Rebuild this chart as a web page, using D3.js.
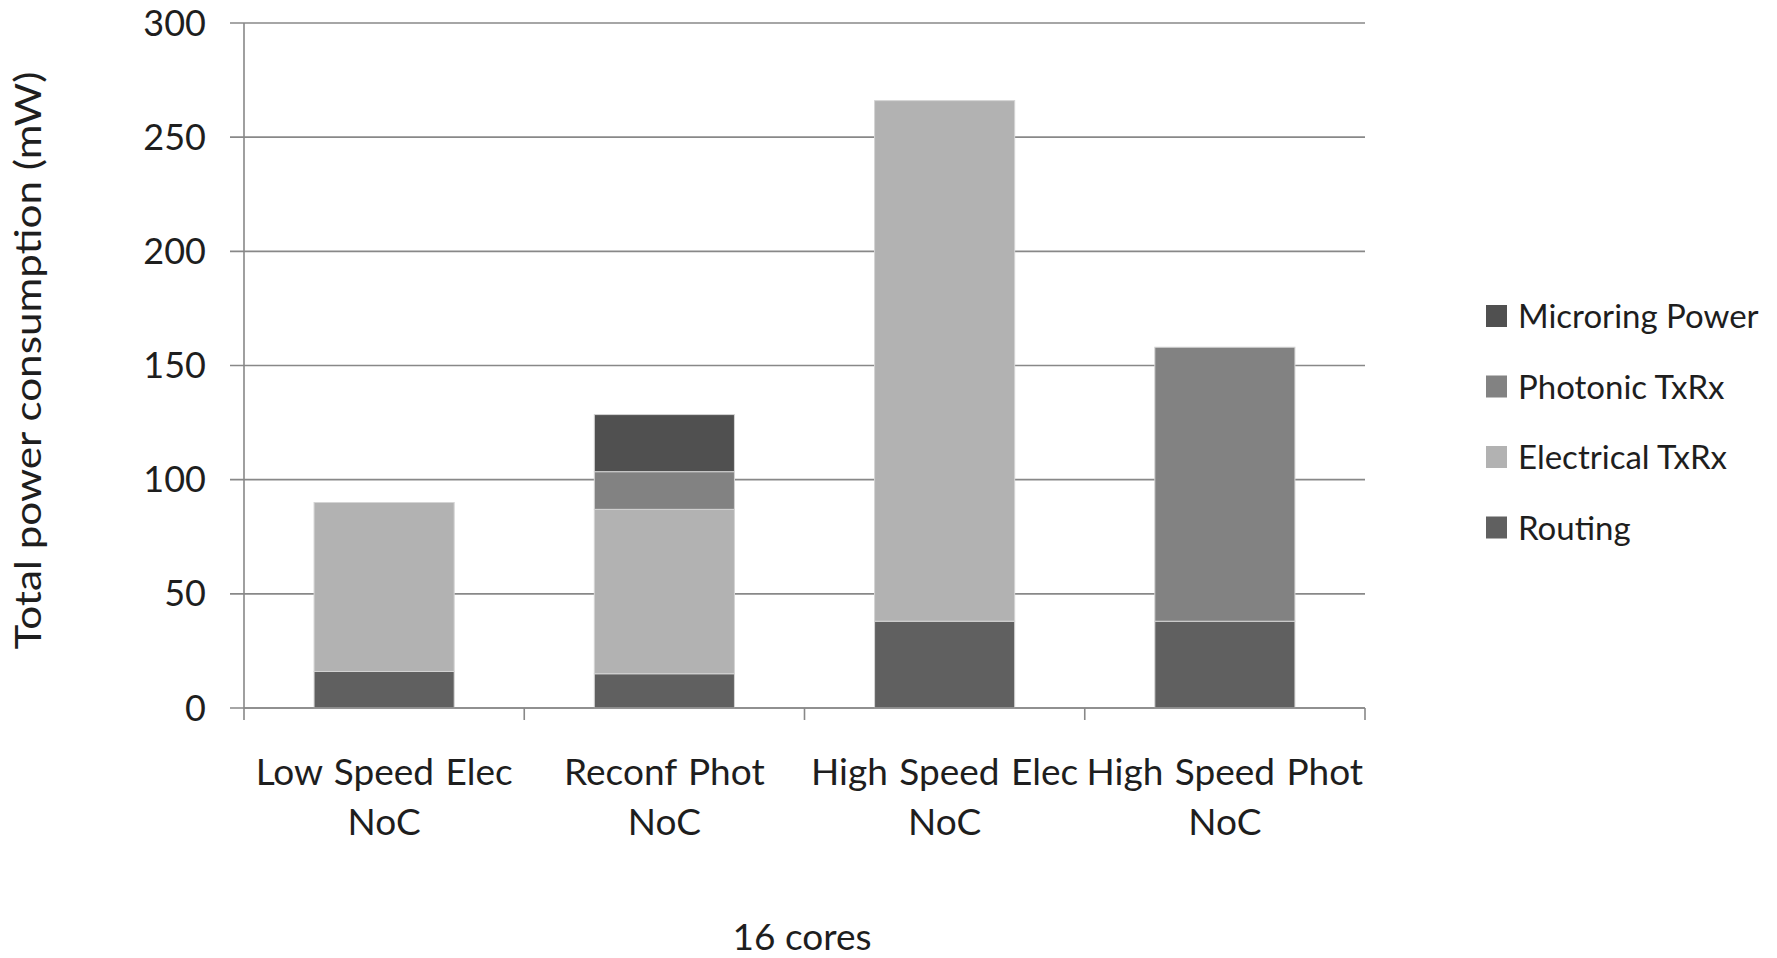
<!DOCTYPE html>
<html>
<head>
<meta charset="utf-8">
<script src="https://cdn.jsdelivr.net/npm/d3@7/dist/d3.min.js"></script>
<style>
  html, body { margin: 0; padding: 0; background: #fff; }
  svg { display: block; font-family: Lato, "Open Sans", sans-serif; }
</style>
</head>
<body>
<svg id="chart" width="1777" height="958"></svg>
<script>
// NoC configurations (x categories), each label split over two lines
const categories = ["Low Speed Elec NoC", "Reconf Phot NoC", "High Speed Elec NoC", "High Speed Phot NoC"];
const categoryLines = [["Low Speed Elec", "NoC"], ["Reconf Phot", "NoC"], ["High Speed Elec", "NoC"], ["High Speed Phot", "NoC"]];

// Power components in mW, stacked bottom to top
const seriesNames = ["Routing", "Electrical TxRx", "Photonic TxRx", "Microring Power"];
const routing        = [16, 15, 38, 38];
const electricalTxRx = [74, 72, 228, 0];
const photonicTxRx   = [0, 16.5, 0, 120];
const microringPower = [0, 25, 0, 0];

const yTicks = [0, 50, 100, 150, 200, 250, 300];
const yTitle = "Total power consumption (mW)";
const xTitle = "16 cores";

const colors = {
  "Routing": "#606060",
  "Electrical TxRx": "#b2b2b2",
  "Photonic TxRx": "#828282",
  "Microring Power": "#505050"
};

const rows = categories.map((c, i) => ({
  category: c,
  "Routing": routing[i],
  "Electrical TxRx": electricalTxRx[i],
  "Photonic TxRx": photonicTxRx[i],
  "Microring Power": microringPower[i]
}));

const svg = d3.select("#chart");
const plot = { left: 244, right: 1365, top: 23, bottom: 708 };

const x = d3.scaleBand()
  .domain(categories)
  .range([plot.left, plot.right])
  .paddingInner(0.5)
  .paddingOuter(0.25);

const y = d3.scaleLinear()
  .domain([0, 300])
  .range([plot.bottom, plot.top]);

const gridColor = "#888888";
const textColor = "#1e1e1e";

// Horizontal gridlines with short ticks to the left of the axis
svg.append("g")
  .selectAll("line")
  .data(yTicks)
  .join("line")
  .attr("x1", plot.left - 14)
  .attr("x2", plot.right)
  .attr("y1", d => y(d))
  .attr("y2", d => y(d))
  .attr("stroke", gridColor)
  .attr("stroke-width", 1.6);

// Y tick labels
svg.append("g")
  .selectAll("text")
  .data(yTicks)
  .join("text")
  .attr("x", 206)
  .attr("y", d => y(d) + 12.5)
  .attr("text-anchor", "end")
  .attr("font-size", 36)
  .attr("fill", textColor)
  .text(d => d);

// Stacked bars
const layers = d3.stack().keys(seriesNames)(rows);

svg.append("g")
  .selectAll("g")
  .data(layers)
  .join("g")
  .attr("fill", d => colors[d.key])
  .selectAll("rect")
  .data(d => d.filter(s => s[1] - s[0] > 0))
  .join("rect")
  .attr("x", d => x(d.data.category))
  .attr("width", x.bandwidth())
  .attr("y", d => y(d[1]))
  .attr("height", d => y(d[0]) - y(d[1]))
  .attr("stroke", "#d4d4d4")
  .attr("stroke-width", 1);

// Y axis line (runs a little below the baseline)
svg.append("line")
  .attr("x1", plot.left).attr("x2", plot.left)
  .attr("y1", y(300)).attr("y2", plot.bottom + 12)
  .attr("stroke", gridColor)
  .attr("stroke-width", 1.6);

// X axis baseline and category boundary ticks
svg.append("line")
  .attr("x1", plot.left).attr("x2", plot.right)
  .attr("y1", y(0)).attr("y2", y(0))
  .attr("stroke", gridColor)
  .attr("stroke-width", 1.6);

const boundaryX = categories.map((c, i) => plot.left + x.step() * (i + 1));
svg.append("g")
  .selectAll("line")
  .data(boundaryX)
  .join("line")
  .attr("x1", d => d).attr("x2", d => d)
  .attr("y1", plot.bottom).attr("y2", plot.bottom + 12)
  .attr("stroke", gridColor)
  .attr("stroke-width", 1.6);

// Category labels (two lines each)
const xl = svg.append("g")
  .selectAll("text")
  .data(categories)
  .join("text")
  .attr("text-anchor", "middle")
  .attr("font-size", 37)
  .attr("word-spacing", 2)
  .attr("fill", textColor);
xl.each(function(c, i) {
  const t = d3.select(this);
  const cx = x(c) + x.bandwidth() / 2;
  categoryLines[i].forEach((line, j) => {
    t.append("tspan")
      .attr("x", cx)
      .attr("y", 785 + j * 50)
      .text(line);
  });
});

// Axis titles
svg.append("text")
  .attr("transform", `translate(41, ${(y(300) + y(0)) / 2 - 5}) rotate(-90)`)
  .attr("text-anchor", "middle")
  .attr("font-size", 37)
  .attr("textLength", 578)
  .attr("lengthAdjust", "spacingAndGlyphs")
  .attr("fill", textColor)
  .text(yTitle);

svg.append("text")
  .attr("x", 802)
  .attr("y", 950)
  .attr("text-anchor", "middle")
  .attr("font-size", 37)
  .attr("fill", textColor)
  .text(xTitle);

// Legend, listed top of stack first
const legendKeys = seriesNames.slice().reverse();
const legend = svg.append("g")
  .selectAll("g")
  .data(legendKeys)
  .join("g")
  .attr("transform", (d, i) => `translate(1486, ${305 + i * 70.5})`);
legend.append("rect")
  .attr("width", 21)
  .attr("height", 22)
  .attr("fill", d => colors[d]);
legend.append("text")
  .attr("x", 32)
  .attr("y", 23)
  .attr("font-size", 33)
  .attr("fill", textColor)
  .text(d => d);
</script>
</body>
</html>
